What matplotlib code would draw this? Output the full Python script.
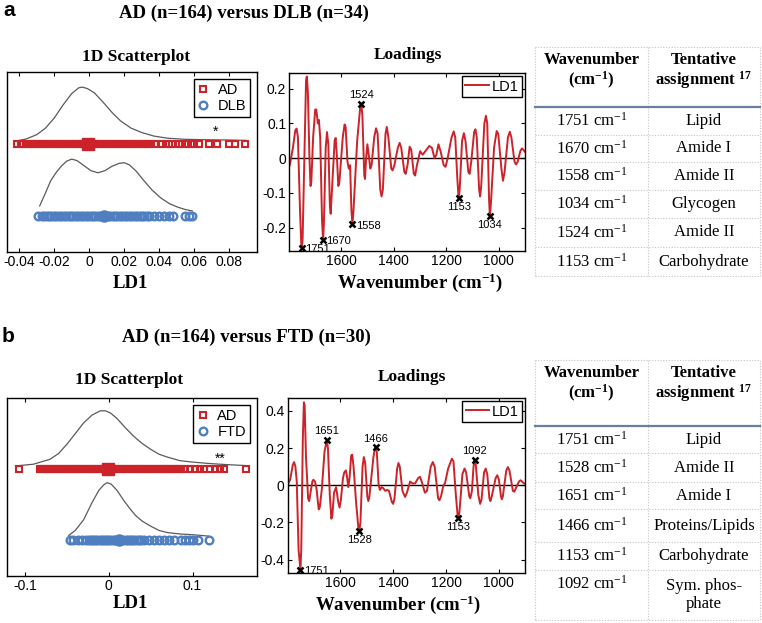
import matplotlib
matplotlib.use('Agg')
import matplotlib.pyplot as plt

plt.rcParams['font.family'] = ['Liberation Sans', 'DejaVu Sans']
plt.rcParams['axes.unicode_minus'] = False
plt.rcParams['mathtext.fontset'] = 'custom'
plt.rcParams['mathtext.rm'] = 'Liberation Serif'
plt.rcParams['mathtext.it'] = 'Liberation Serif:italic'
plt.rcParams['mathtext.bf'] = 'Liberation Serif:bold'

RED = '#CC2229'
BLUE = '#4F7FC0'
GREY = '#5a5a5a'
SERIF = 'Liberation Serif'

# ---- panel a : AD vs DLB ----
ad_a = [-0.0410, -0.0388, -0.0377, -0.0363, -0.0349, -0.0335, -0.0321, -0.0307, -0.0293, -0.0279,
        -0.0265, -0.0251, -0.0237, -0.0223, -0.0209, -0.0195, -0.0181, -0.0167, -0.0153, -0.0139,
        -0.0125, -0.0111, -0.0097, -0.0083, -0.0069, -0.0055, -0.0041, -0.0027, -0.0013, 0.0001,
        0.0015, 0.0029, 0.0043, 0.0057, 0.0071, 0.0085, 0.0099, 0.0113, 0.0127, 0.0141, 0.0155,
        0.0169, 0.0183, 0.0197, 0.0211, 0.0225, 0.0239, 0.0253, 0.0267, 0.0281, 0.0295, 0.0309,
        0.0323, 0.0337, 0.0351, 0.0380, 0.0409, 0.0437, 0.0456, 0.0475, 0.0513, 0.0533, 0.0561,
        0.0580, 0.0599, 0.0627, 0.0685, 0.0733, 0.0799, 0.0837, 0.0894]
dlb_a = [-0.0293, -0.0267, -0.0258, -0.0244, -0.0230, -0.0216, -0.0202, -0.0188, -0.0174, -0.0160,
         -0.0146, -0.0132, -0.0118, -0.0104, -0.0090, -0.0076, -0.0062, -0.0048, -0.0034, -0.0020,
         -0.0006, 0.0008, 0.0022, 0.0036, 0.0050, 0.0064, 0.0078, 0.0092, 0.0106, 0.0120, 0.0134,
         0.0148, 0.0162, 0.0176, 0.0190, 0.0204, 0.0218, 0.0232, 0.0246, 0.0260, 0.0274, 0.0288,
         0.0302, 0.0316, 0.0330, 0.0344, 0.0370, 0.0399, 0.0427, 0.0456, 0.0481, 0.0551, 0.0570,
         0.0590]
mean_ad_a = -0.0005
mean_dlb_a = 0.0085
kde_ad_a_x = [-0.040, -0.036, -0.030, -0.025, -0.020, -0.015, -0.010, -0.006, -0.004, -0.001, 0.003,
              0.008, 0.013, 0.018, 0.024, 0.030, 0.037, 0.045, 0.055, 0.065, 0.080, 0.090]
kde_ad_a_y = [2.05, 2.07, 2.13, 2.22, 2.36, 2.54, 2.70, 2.78, 2.79, 2.77, 2.71,
              2.58, 2.44, 2.32, 2.22, 2.16, 2.11, 2.08, 2.065, 2.06, 2.055, 2.05]
kde_dlb_a_x = [-0.0283, -0.025, -0.022, -0.019, -0.016, -0.013, -0.010, -0.007, -0.003, 0.001, 0.005,
               0.009, 0.013, 0.017, 0.020, 0.023, 0.027, 0.031, 0.036, 0.041, 0.046, 0.051, 0.055, 0.059]
kde_dlb_a_y = [1.14, 1.32, 1.49, 1.60, 1.69, 1.76, 1.79, 1.77, 1.70, 1.63, 1.60,
               1.63, 1.69, 1.73, 1.74, 1.71, 1.62, 1.50, 1.36, 1.25, 1.17, 1.12, 1.09, 1.07]
ticks_sc_a = [-0.04, -0.02, 0, 0.02, 0.04, 0.06, 0.08]

wn_a = [1797, 1785, 1776, 1771, 1766, 1758, 1753, 1751, 1748, 1740, 1735, 1732, 1728, 1722, 1718,
        1715, 1708, 1700, 1696, 1690, 1686, 1681, 1674, 1670, 1667, 1660, 1655, 1650, 1644, 1641,
        1636, 1626, 1622, 1617, 1612, 1608, 1595, 1588, 1584, 1577, 1572, 1567, 1562, 1558, 1554,
        1540, 1528, 1524, 1520, 1513, 1510, 1506, 1501, 1496, 1490, 1485, 1475, 1468, 1462, 1452,
        1447, 1442, 1432, 1427, 1421, 1410, 1405, 1398, 1385, 1378, 1372, 1360, 1355, 1348, 1340,
        1334, 1324, 1319, 1312, 1300, 1290, 1280, 1265, 1255, 1245, 1238, 1230, 1222, 1210, 1203,
        1195, 1180, 1172, 1166, 1158, 1153, 1149, 1140, 1133, 1127, 1116, 1111, 1105, 1094, 1089,
        1084, 1075, 1071, 1067, 1055, 1049, 1044, 1037, 1034, 1030, 1018, 1008, 1002, 990, 984,
        978, 965, 958, 952, 940, 934, 928, 918, 912, 906, 900]
ld_a = [-0.02, 0.03, 0.08, 0.085, 0.06, -0.15, -0.25, -0.258, -0.23, 0.05, 0.225, 0.235, 0.19, 0.0,
        -0.08, -0.07, 0.06, 0.14, 0.14, 0.10, 0.11, 0.06, -0.18, -0.234, -0.19, 0.03, 0.075, 0.04,
        -0.14, -0.16, -0.09, 0.05, 0.058, 0.0, -0.08, -0.07, 0.06, 0.097, 0.09, -0.01, -0.03, -0.02,
        -0.15, -0.19, -0.15, 0.05, 0.15, 0.157, 0.12, -0.05, -0.06, 0.0, 0.04, 0.01, -0.03, -0.02,
        0.06, 0.086, 0.07, -0.09, -0.11, -0.09, 0.07, 0.09, 0.06, -0.03, -0.035, -0.02, 0.03, 0.044,
        0.03, -0.04, -0.045, -0.02, 0.033, 0.025, -0.045, -0.05, -0.02, 0.02, 0.01, 0.02, 0.035,
        0.03, 0.0, 0.01, 0.04, 0.02, -0.02, -0.025, 0.0, 0.06, 0.077, 0.06, -0.06, -0.115, -0.09,
        0.05, 0.072, 0.05, -0.04, -0.045, -0.01, 0.075, 0.083, 0.06, -0.09, -0.11, -0.08, 0.1,
        0.122, 0.1, -0.12, -0.166, -0.13, 0.03, 0.078, 0.07, -0.03, -0.065, -0.04, 0.06, 0.076,
        0.06, -0.01, -0.018, -0.01, 0.02, 0.028, 0.024, 0.018]
peaks_a = [1751, 1670, 1558, 1034, 1524, 1153]
assign_a = ['Lipid', 'Amide I', 'Amide II', 'Glycogen', 'Amide II', 'Carbohydrate']
label_side_a = ['r', 'r', 'r', 'b', 'a', 'b']

# ---- panel b : AD vs FTD ----
ad_b = [-0.1067, -0.0824, -0.0796, -0.0770, -0.0744, -0.0718, -0.0692, -0.0666, -0.0640, -0.0614,
        -0.0588, -0.0562, -0.0536, -0.0510, -0.0484, -0.0458, -0.0432, -0.0406, -0.0380, -0.0354,
        -0.0328, -0.0302, -0.0276, -0.0250, -0.0224, -0.0198, -0.0172, -0.0146, -0.0120, -0.0094,
        -0.0068, -0.0042, -0.0016, 0.0010, 0.0036, 0.0062, 0.0088, 0.0114, 0.0140, 0.0166, 0.0192,
        0.0218, 0.0244, 0.0270, 0.0296, 0.0322, 0.0348, 0.0374, 0.0400, 0.0426, 0.0452, 0.0478,
        0.0504, 0.0530, 0.0556, 0.0582, 0.0608, 0.0634, 0.0660, 0.0686, 0.0712, 0.0738, 0.0764,
        0.0790, 0.0816, 0.0842, 0.0868, 0.0916, 0.0968, 0.1024, 0.1084, 0.1143, 0.1203, 0.1263,
        0.1323, 0.1374, 0.1633]
ftd_b = [-0.0458, -0.0426, -0.0370, -0.0318, -0.0266, -0.0240, -0.0214, -0.0188, -0.0162, -0.0136,
         -0.0110, -0.0084, -0.0058, -0.0032, -0.0006, 0.0020, 0.0046, 0.0072, 0.0098, 0.0124,
         0.0150, 0.0176, 0.0202, 0.0228, 0.0254, 0.0280, 0.0306, 0.0332, 0.0358, 0.0384, 0.0418,
         0.0478, 0.0538, 0.0597, 0.0657, 0.0717, 0.0777, 0.0857, 0.0908, 0.0956, 0.1008, 0.1063,
         0.1195]
mean_ad_b = -0.001
mean_ftd_b = 0.0128
kde_ad_b_x = [-0.1075, -0.090, -0.070, -0.060, -0.050, -0.040, -0.030, -0.020, -0.010, -0.004, 0.002,
              0.010, 0.020, 0.030, 0.040, 0.050, 0.060, 0.070, 0.085, 0.100, 0.120, 0.140, 0.165]
kde_ad_b_y = [2.05, 2.07, 2.14, 2.22, 2.35, 2.50, 2.65, 2.76, 2.82, 2.82, 2.79,
              2.71, 2.58, 2.46, 2.36, 2.28, 2.21, 2.17, 2.12, 2.10, 2.08, 2.065, 2.05]
kde_ftd_b_x = [-0.0478, -0.040, -0.030, -0.020, -0.012, -0.006, -0.002, 0.003, 0.010, 0.018, 0.025,
               0.032, 0.040, 0.050, 0.060, 0.070, 0.085, 0.100, 0.1195]
kde_ftd_b_y = [1.07, 1.14, 1.29, 1.53, 1.70, 1.78, 1.81, 1.79, 1.70, 1.56, 1.45,
               1.35, 1.27, 1.20, 1.14, 1.11, 1.09, 1.08, 1.06]
ticks_sc_b = [-0.1, 0, 0.1]

wn_b = [1797, 1790, 1780, 1775, 1770, 1765, 1758, 1751, 1748, 1742, 1738, 1735, 1730, 1722, 1718,
        1714, 1706, 1702, 1696, 1690, 1682, 1678, 1670, 1660, 1651, 1647, 1640, 1634, 1630, 1624,
        1616, 1608, 1603, 1598, 1590, 1585, 1579, 1575, 1570, 1565, 1559, 1555, 1550, 1540, 1531,
        1528, 1524, 1516, 1511, 1506, 1498, 1494, 1490, 1475, 1469, 1466, 1462, 1455, 1450, 1444,
        1438, 1430, 1422, 1416, 1405, 1400, 1395, 1385, 1380, 1375, 1365, 1355, 1348, 1336, 1327,
        1317, 1305, 1298, 1290, 1280, 1272, 1258, 1250, 1243, 1230, 1225, 1219, 1210, 1204, 1192,
        1178, 1172, 1163, 1156, 1153, 1149, 1138, 1130, 1124, 1112, 1108, 1102, 1096, 1092, 1088,
        1078, 1071, 1066, 1056, 1050, 1044, 1036, 1032, 1027, 1012, 1006, 1000, 992, 989, 985,
        972, 966, 960, 947, 942, 937, 924, 918, 912, 905, 900]
ld_b = [0.01, 0.03, 0.11, 0.125, 0.1, 0.02, -0.35, -0.456, -0.35, 0.25, 0.447, 0.43, 0.15, -0.07,
        -0.085, -0.05, 0.02, 0.03, 0.02, -0.02, -0.13, -0.12, -0.02, 0.18, 0.245, 0.2, -0.05, -0.18,
        -0.16, -0.04, -0.01, -0.09, -0.12, -0.08, 0.04, 0.07, 0.08, 0.05, -0.01, 0.04, 0.16, 0.165,
        0.1, -0.1, -0.24, -0.245, -0.2, 0.1, 0.152, 0.12, -0.06, -0.085, -0.06, 0.15, 0.2, 0.206,
        0.18, 0.0, -0.025, -0.01, -0.015, -0.03, -0.025, -0.03, -0.09, -0.1, -0.07, 0.09, 0.12, 0.1,
        -0.03, -0.063, -0.04, 0.02, 0.01, 0.01, 0.04, 0.045, 0.01, -0.04, -0.03, 0.1, 0.125, 0.1,
        -0.07, -0.081, -0.06, 0.0, 0.01, 0.09, 0.143, 0.13, -0.05, -0.165, -0.175, -0.14, 0.06,
        0.09, 0.07, -0.06, -0.07, -0.03, 0.1, 0.138, 0.12, -0.05, -0.1, -0.08, 0.07, 0.09, 0.06,
        -0.07, -0.085, -0.06, 0.04, 0.054, 0.03, -0.06, -0.075, -0.06, 0.08, 0.098, 0.08, -0.03,
        -0.035, -0.02, 0.02, 0.027, 0.02, 0.01, 0.01]
peaks_b = [1751, 1528, 1651, 1466, 1153, 1092]
assign_b = ['Lipid', 'Amide II', 'Amide I', 'Proteins/Lipids', 'Carbohydrate', 'Sym. phos-\nphate']
label_side_b = ['r', 'b', 'a', 'a', 'b', 'a']

wn_ticks = [1600, 1400, 1200, 1000]


def style_axes(ax):
    ax.tick_params(direction='in', top=True, right=True, length=3, labelsize=10, pad=2)
    for s in ax.spines.values():
        s.set_linewidth(1.0)


def scatter_panel(ax, g1, g2, m1, m2, k1x, k1y, k2x, k2y, names, xlim, ticks, star):
    ax.plot(k1x, k1y, color=GREY, lw=0.9)
    ax.plot(k2x, k2y, color=GREY, lw=0.9)
    ax.plot(g1, [2] * len(g1), ls='none', marker='s', ms=5, mfc='none', mec=RED, mew=1.5, label=names[0])
    ax.plot(g2, [1] * len(g2), ls='none', marker='o', ms=5.5, mfc='none', mec=BLUE, mew=1.7, label=names[1])
    ax.plot([m1], [2], marker='s', ms=8, color=RED)
    ax.plot([m2], [1], marker='o', ms=8, color=BLUE)
    ax.text(star[0], star[1], star[2], ha='center', va='center', fontsize=10)
    ax.set_xlim(xlim)
    ax.set_ylim(0.5, 3.0)
    ax.set_yticks([])
    ax.set_xticks(ticks, ['%g' % t for t in ticks])
    style_axes(ax)
    leg = ax.legend(loc='upper right', fancybox=False, edgecolor='black', framealpha=1,
                    fontsize=10.5, handlelength=0.8, handletextpad=0.6, borderpad=0.25,
                    labelspacing=0.15, borderaxespad=0.5)
    leg.get_frame().set_linewidth(1.0)


def loadings_panel(ax, wn, ld, peaks, sides, ylim, yticks):
    ax.axhline(0, color='black', lw=1.0)
    ax.plot(wn, ld, color=RED, lw=1.4, solid_joinstyle='round', label='LD1')
    for p, s in zip(peaks, sides):
        v = ld[wn.index(p)]
        ax.plot(p, v, marker='x', color='black', ms=5, mew=1.8)
        if s == 'r':
            ax.annotate(str(p), (p, v), xytext=(2.5, -1), textcoords='offset points',
                        ha='left', va='center', fontsize=8)
        elif s == 'a':
            ax.annotate(str(p), (p, v), xytext=(0, 2.5), textcoords='offset points',
                        ha='center', va='bottom', fontsize=8)
        else:
            ax.annotate(str(p), (p, v), xytext=(0, -3), textcoords='offset points',
                        ha='center', va='top', fontsize=8)
    ax.set_xlim(1800, 900)
    ax.set_ylim(ylim)
    ax.set_xticks(wn_ticks)
    ax.set_yticks(yticks, ['%g' % t for t in yticks])
    style_axes(ax)
    leg = ax.legend(loc='upper right', fancybox=False, edgecolor='black', framealpha=1,
                    fontsize=10.5, handlelength=1.6, handletextpad=0.2, borderpad=0.25,
                    borderaxespad=0.2)
    leg.get_frame().set_linewidth(1.0)


def table_panel(ov, top, hb, edges, peaks, assign):
    x0, xm, x1 = 535, 648, 760
    dot = dict(color='#c4c4c4', lw=0.8, ls=(0, (1, 1.5)))
    for x in (x0, xm, x1):
        ov.plot([x, x], [top, edges[-1]], **dot)
    for y in [top] + edges[1:]:
        ov.plot([x0, x1], [y, y], **dot)
    ov.plot([x0, x1], [hb, hb], color='#6a7ea2', lw=1.6)
    hd = dict(ha='center', va='center', family=SERIF, fontsize=12, weight='bold')
    ov.text((x0 + xm) / 2, top + 13, 'Wavenumber', **hd)
    ov.text((x0 + xm) / 2, top + 33, r'(cm$^{\mathbf{-1}}$)', **hd)
    ov.text((xm + x1) / 2, top + 13, 'Tentative', **hd)
    ov.text((xm + x1) / 2, top + 33, r'assignment $^{\mathbf{17}}$', **hd)
    rw = dict(ha='center', va='center', family=SERIF, fontsize=12)
    for i, (p, a) in enumerate(zip(peaks, assign)):
        y0, y1 = edges[i], edges[i + 1]
        yc = (y0 + y1) / 2
        yn = y0 + 14 if '\n' in a else yc
        ov.text((x0 + xm) / 2, yn, '%d cm$^{-1}$' % p, **rw)
        ov.text((xm + x1) / 2, yc, a, linespacing=1.25, **rw)


W, H = 762, 623
fig = plt.figure(figsize=(W / 100, H / 100), dpi=100)


def px_axes(l, t, r, b):
    return fig.add_axes([l / W, 1 - b / H, (r - l) / W, (b - t) / H])


ax_sa = px_axes(7, 72, 257, 252)
ax_la = px_axes(289, 73, 525, 251)
ax_sb = px_axes(7, 398, 257, 576)
ax_lb = px_axes(287.5, 398, 525.3, 573.3)

scatter_panel(ax_sa, ad_a, dlb_a, mean_ad_a, mean_dlb_a, kde_ad_a_x, kde_ad_a_y, kde_dlb_a_x,
              kde_dlb_a_y, ['AD', 'DLB'], (-0.047, 0.096), ticks_sc_a, (0.0723, 2.17, '*'))
scatter_panel(ax_sb, ad_b, ftd_b, mean_ad_b, mean_ftd_b, kde_ad_b_x, kde_ad_b_y, kde_ftd_b_x,
              kde_ftd_b_y, ['AD', 'FTD'], (-0.1215, 0.177), ticks_sc_b, (0.133, 2.15, '**'))
loadings_panel(ax_la, wn_a, ld_a, peaks_a, label_side_a, (-0.267, 0.245), [-0.2, -0.1, 0, 0.1, 0.2])
loadings_panel(ax_lb, wn_b, ld_b, peaks_b, label_side_b, (-0.474, 0.47), [-0.4, -0.2, 0, 0.2, 0.4])

ov = fig.add_axes([0, 0, 1, 1])
ov.set_xlim(0, W)
ov.set_ylim(H, 0)
ov.axis('off')

table_panel(ov, 47, 107, [107, 135, 162, 190, 218, 247, 276], peaks_a, assign_a)
table_panel(ov, 360, 426, [426, 453, 482, 509, 542, 570, 620], peaks_b, assign_b)

bold_serif = dict(family=SERIF, weight='bold', ha='center', va='center')
ov.text(9, 10, 'a', fontsize=15, weight='bold', ha='center', va='center')
ov.text(8, 336, 'b', fontsize=15, weight='bold', ha='center', va='center')
ov.text(244, 13, 'AD (n=164) versus DLB (n=34)', fontsize=13.5, **bold_serif)
ov.text(246, 337, 'AD (n=164) versus FTD (n=30)', fontsize=13.5, **bold_serif)
ov.text(136, 57, '1D Scatterplot', fontsize=12.5, **bold_serif)
ov.text(129, 380, '1D Scatterplot', fontsize=12.5, **bold_serif)
ov.text(408, 55, 'Loadings', fontsize=12.5, **bold_serif)
ov.text(412, 377, 'Loadings', fontsize=12.5, **bold_serif)
ov.text(130, 283, 'LD1', fontsize=13.5, **bold_serif)
ov.text(130, 603, 'LD1', fontsize=13.5, **bold_serif)
ov.text(420, 283, r'Wavenumber (cm$^{\mathbf{-1}}$)', fontsize=13.5, **bold_serif)
ov.text(398, 605, r'Wavenumber (cm$^{\mathbf{-1}}$)', fontsize=13.5, **bold_serif)

fig.savefig('out.png', dpi=100)
